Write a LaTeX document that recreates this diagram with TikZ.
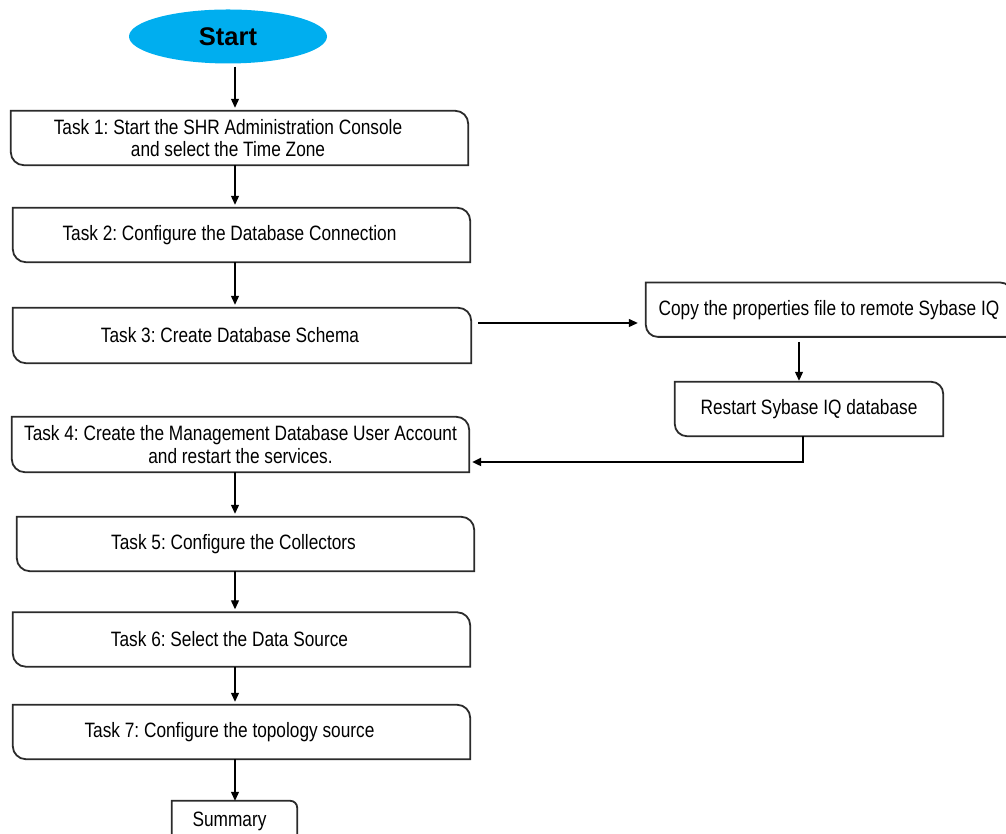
\documentclass[tikz,border=0pt]{standalone}
\usepackage{fontspec}
\setmainfont[FakeStretch=0.83]{Liberation Sans}
\newfontfamily\startfont{Liberation Sans}
\usetikzlibrary{arrows.meta,shapes.geometric}
\frenchspacing

\definecolor{startblue}{HTML}{00AEEF}
\definecolor{framegray}{HTML}{2B2B2B}

\tikzset{
  task/.style={minimum height=54pt, inner sep=0pt, align=center,
    font=\fontsize{20.8}{22.5}\selectfont},
  textleft/.style={execute at end node={\hspace{24pt}}},
  boxline/.style={line width=1.8pt, draw=framegray},
  flow/.style={->, line width=1.2pt, >={Triangle[length=9pt,width=8pt]}, shorten >=3pt},
}

\begin{document}
\begin{tikzpicture}[x=1pt,y=1pt]
\useasboundingbox (0,0) rectangle (1006,834);

\node (start) at (228,797.5) [ellipse, fill=startblue, minimum width=198pt, minimum height=54pt, inner sep=0pt, font=\startfont\bfseries\fontsize{25.5}{25.5}\selectfont] {Start};

\node (task1) at (239.5,696) [task, minimum width=457pt] {Task 1: Start the SHR Administration Console\hspace*{23pt}\null\\and select the Time Zone\hspace*{23pt}\null};
\node (task2) at (241.5,599) [task, textleft, minimum width=457pt] {Task 2: Configure the Database Connection};
\node (task3) at (242,498.5) [task, textleft, minimum width=458pt, minimum height=55pt] {Task 3: Create Database Schema};
\node (task4) at (240.5,389.5) [task, minimum width=457pt, minimum height=55pt] {Task 4: Create the Management Database User Account\\and restart the services.};
\node (task5) at (245.5,290) [task, textleft, minimum width=457pt] {Task 5: Configure the Collectors};
\node (task6) at (241.5,194.5) [task, textleft, minimum width=457pt] {Task 6: Select the Data Source};
\node (task7) at (241.5,102) [task, textleft, minimum width=457pt] {Task 7: Configure the topology source};
\node (summary) at (234.5,13) [task, minimum width=125pt, minimum height=40pt, execute at end node={\hspace{10pt}}] {Summary};

\node (copy) at (829,524.3) [task, minimum width=366pt] {Copy the properties file to remote Sybase IQ};
\node (restart) at (809,425) [task, minimum width=268pt] {Restart Sybase IQ database};

% box outlines: round top right and bottom left
\foreach \n/\r in {task1/13,task2/13,task3/13,task4/13,task5/13,task6/13,task7/13,summary/7,copy/12,restart/12}
  \draw[boxline] (\n.north west) -- ([xshift=-\r pt]\n.north east) arc[start angle=90,end angle=0,radius=\r pt]
    -- (\n.south east) -- ([xshift=\r pt]\n.south west) arc[start angle=270,end angle=180,radius=\r pt] -- cycle;

\draw [flow, shorten <=3pt] (start.south -| 235,0) -- (task1.north -| 235,0);
\draw [flow] (task1.south -| 235,0) -- (task2.north -| 235,0);
\draw [flow] (task2.south -| 235,0) -- (task3.north -| 235,0);
\draw [flow] (task4.south -| 235,0) -- (task5.north -| 235,0);
\draw [flow] (task5.south -| 235,0) -- (task6.north -| 235,0);
\draw [flow] (task6.south -| 235,0) -- (task7.north -| 235,0);
\draw [flow, shorten >=0pt] (task7.south -| 235,0) -- (summary.north -| 235,0);

\draw [flow, shorten >=0pt] ([xshift=7pt,yshift=12.5pt]task3.east) -- ([xshift=-8pt,yshift=12.5pt]task3.east -| copy.west);
\draw [flow, shorten <=5pt, shorten >=1pt] ([xshift=-10pt]restart.north |- copy.south) -- ([xshift=-10pt]restart.north);
\draw [flow, line width=2.2pt, shorten >=0pt] ([xshift=-6pt]restart.south) |- ([xshift=3pt,yshift=-17.5pt]task4.east);
\end{tikzpicture}
\end{document}
